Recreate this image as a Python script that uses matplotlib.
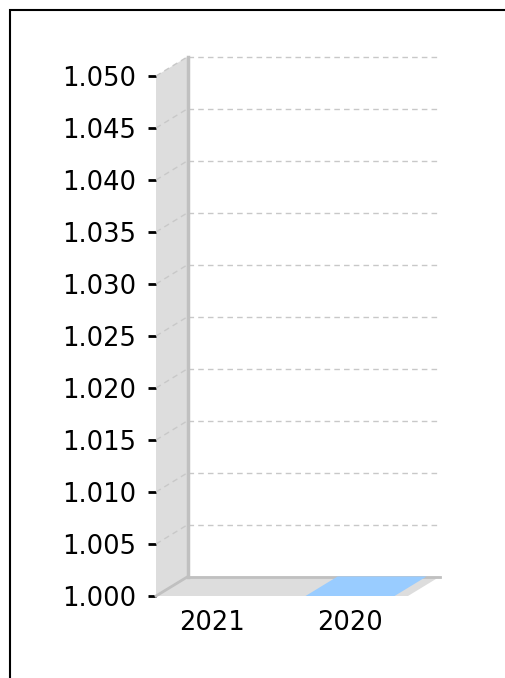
"""pseudo-3D column chart, two years"""

import numpy as np
import matplotlib
matplotlib.use("Agg")
import matplotlib.pyplot as plt
from matplotlib.patches import Polygon, Rectangle
from matplotlib.transforms import ScaledTranslation, IdentityTransform

categories = ["2021", "2020"]
values = [np.nan, 1.0]
y_ticks = [1.000, 1.005, 1.010, 1.015, 1.020, 1.025, 1.030, 1.035, 1.040, 1.045, 1.050]

W, H, DPI = 506, 678, 100
DX, DY = 32, 19.5          # depth offset in pixels
WALL = "#dddddd"
EDGE = "#c0c0c0"
GRID = "#c8c8c8"
BAR = "#99ccff"

fig = plt.figure(figsize=(W / DPI, H / DPI), dpi=DPI)
ax = fig.add_axes([156 / W, 1 - 596 / H, (408 - 156) / W, (596 - 76) / H])
x = np.arange(len(categories))
x0, x1 = -0.406, 1.42
y0, y1 = y_ticks[0], y_ticks[-1]
ax.set_xlim(x0, x1)
ax.set_ylim(y0, y1)
for s in ax.spines.values():
  s.set_visible(False)

back = ax.transData + ScaledTranslation(DX / DPI, DY / DPI, fig.dpi_scale_trans)
pix = IdentityTransform()

def add_shape(front_pts, back_pts, color, z=1):
  '''front_pts and back_pts in data coords; join into one polygon in pixels'''
  f = ax.transData.transform(front_pts)
  b = back.transform(back_pts)
  ax.add_patch(Polygon(np.vstack([f, b[::-1]]), closed=True, transform=pix,
                       facecolor=color, edgecolor="none", zorder=z, clip_on=False))

def depth_line(xv, yv, **kw):
  '''line from the front plane to the back plane'''
  p0 = ax.transData.transform((xv, yv))
  p1 = back.transform((xv, yv))
  ax.plot([p0[0], p1[0]], [p0[1], p1[1]], transform=pix, clip_on=False, **kw)

# left wall and floor
add_shape([(x0, y0), (x0, y1)], [(x0, y0), (x0, y1)], WALL, 1)
add_shape([(x0, y0), (x1, y0)], [(x0, y0), (x1, y0)], WALL, 1)

# grid: back wall dashed lines and diagonal on the left wall
for t in y_ticks[1:]:
  ax.plot([x0, x1], [t, t], transform=back, color=GRID, lw=1,
          ls=(0, (4, 3)), clip_on=False, zorder=2)
  depth_line(x0, t, color=GRID, lw=1, ls=(0, (4, 3)), zorder=2)

# back wall edges
ax.plot([x0, x0], [y0, y1], transform=back, color=EDGE, lw=2.5, clip_on=False, zorder=3)
ax.plot([x0, x1], [y0, y0], transform=back, color=EDGE, lw=2, clip_on=False, zorder=3)
depth_line(x0, y0, color=EDGE, lw=2, zorder=3)

# columns (top face only shows when value sits at the floor)
bw = 0.645
for xi, v in zip(x, values):
  if np.isnan(v) or v < y0:
    continue
  top = min(v, y1)
  if top > y0:
    ax.add_patch(Rectangle((xi - bw / 2, y0), bw, top - y0, facecolor=BAR,
                           edgecolor="none", zorder=4))
  add_shape([(xi - bw / 2, top), (xi + bw / 2, top)],
            [(xi - bw / 2, top), (xi + bw / 2, top)], BAR, 5)

ax.set_xlim(x0, x1)
ax.set_ylim(y0, y1)
ax.set_yticks(y_ticks)
ax.set_yticklabels([f"{t:.3f}" for t in y_ticks])
ax.set_xticks(x)
ax.set_xticklabels(categories)
ax.tick_params(axis="y", length=6, width=2, pad=8.5, labelsize=18.5)
ax.tick_params(axis="x", length=0, pad=10, labelsize=18.5)

# outer frame (cut off at right and bottom)
fig.add_artist(Rectangle((10 / W, -0.1), 1.2, 1.1 - 10.5 / H, transform=fig.transFigure,
                         fill=False, edgecolor="black", lw=1.5))

fig.savefig("out.png", dpi=DPI)
